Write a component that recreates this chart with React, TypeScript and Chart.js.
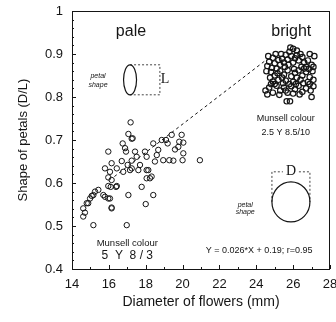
import React, { useEffect, useRef } from 'react';
import { Chart, registerables } from 'chart.js';

Chart.register(...registerables);

// Pale flowers (Munsell 5 Y 8/3)
const paleX = [17.18, 17.06, 17.29, 15.97, 16.75, 16.88, 16.93, 16.7, 17.24, 17.42, 17.51, 17.96, 18.05, 17.6, 17.69, 18.5, 18.6, 18.41, 18.87, 19.1, 19.41, 19.19, 19.82, 19.95, 20.04, 19.59, 19.77, 20.04, 19.5, 19.28, 18.95, 20.0, 18.14, 18.23, 18.05, 18.32, 17.78, 18.41, 17.06, 18.0, 16.15, 15.79, 16.15, 16.43, 16.06, 15.97, 16.15, 16.1, 16.39, 15.43, 15.25, 15.16, 14.98, 14.8, 14.61, 14.7, 14.61, 14.88, 15.07, 15.79, 15.97, 17.02, 17.15, 16.78, 15.7, 16.06, 16.15, 15.16, 16.97, 18.68, 17.24, 18.05, 20.94, 15.97, 16.43, 17.24];
const paleY = [0.741, 0.714, 0.704, 0.673, 0.692, 0.681, 0.673, 0.651, 0.652, 0.673, 0.661, 0.673, 0.661, 0.63, 0.642, 0.65, 0.665, 0.692, 0.7, 0.7, 0.712, 0.692, 0.696, 0.712, 0.694, 0.678, 0.684, 0.669, 0.652, 0.653, 0.653, 0.653, 0.63, 0.611, 0.611, 0.615, 0.591, 0.572, 0.572, 0.551, 0.543, 0.634, 0.646, 0.634, 0.626, 0.613, 0.607, 0.591, 0.591, 0.584, 0.58, 0.572, 0.564, 0.553, 0.541, 0.531, 0.522, 0.553, 0.57, 0.568, 0.564, 0.642, 0.63, 0.626, 0.572, 0.564, 0.541, 0.502, 0.502, 0.677, 0.634, 0.63, 0.653, 0.593, 0.593, 0.703];

// Bright flowers (Munsell 2.5 Y 8.5/10)
const brightX = [25.8, 26.0, 26.2, 26.4, 25.9, 26.1, 26.3, 26.5, 25.7, 26.0, 26.2, 25.85, 27.15, 26.8, 27.0, 26.7, 24.9, 24.7, 25.0, 25.2, 24.6, 24.85, 25.3, 25.1, 25.4, 24.8, 25.0, 25.3, 25.5, 25.7, 25.9, 26.1, 26.3, 26.5, 26.7, 26.9, 27.05, 25.2, 25.6, 26.0, 26.4, 26.8, 24.9, 25.4, 26.2, 26.6, 27.1, 24.5, 24.7, 24.9, 25.1, 25.3, 25.5, 25.7, 25.9, 26.1, 26.3, 26.5, 26.7, 26.9, 24.6, 25.0, 25.65, 25.83, 27.0, 25.5, 25.6, 26.6, 26.9, 27.1, 24.55, 24.75, 25.15, 25.45, 25.8, 26.15, 26.55, 26.95, 27.1, 24.8, 25.25, 25.6, 26.0, 26.35, 25.55, 25.75, 26.45, 26.85, 24.65, 25.05, 26.05, 25.35];
const brightY = [0.905, 0.912, 0.908, 0.9, 0.895, 0.89, 0.885, 0.893, 0.887, 0.88, 0.897, 0.915, 0.895, 0.885, 0.875, 0.87, 0.891, 0.882, 0.878, 0.886, 0.872, 0.868, 0.875, 0.866, 0.889, 0.858, 0.85, 0.86, 0.852, 0.862, 0.848, 0.856, 0.862, 0.85, 0.858, 0.846, 0.86, 0.84, 0.838, 0.835, 0.84, 0.835, 0.836, 0.845, 0.845, 0.866, 0.84, 0.815, 0.822, 0.81, 0.826, 0.815, 0.822, 0.81, 0.825, 0.818, 0.826, 0.812, 0.82, 0.83, 0.806, 0.83, 0.79, 0.79, 0.8, 0.88, 0.898, 0.88, 0.9, 0.87, 0.86, 0.845, 0.855, 0.832, 0.83, 0.83, 0.832, 0.815, 0.825, 0.83, 0.805, 0.815, 0.808, 0.806, 0.87, 0.875, 0.87, 0.865, 0.895, 0.9, 0.865, 0.9];

// Regression line as drawn
const fitX = [16.3, 24.5];
const fitY = [0.615, 0.885];

const xTicks = [14, 16, 18, 20, 22, 24, 26, 28];
const yTicks = [0.4, 0.5, 0.6, 0.7, 0.8, 0.9, 1];

const INK = '#151515';
const SANS = '"Liberation Sans", Arial, sans-serif';
const SERIF = '"Liberation Serif", "Times New Roman", serif';

export default function App() {
  const ref = useRef<HTMLCanvasElement>(null);

  useEffect(() => {
    const pts = (xs: number[], ys: number[]) => xs.map((x, i) => ({ x, y: ys[i] }));

    const frame = {
      id: 'frame',
      afterDatasetsDraw(chart: any) {
        const { ctx, chartArea: a, scales } = chart;
        const xs = scales.x, ys = scales.y;
        ctx.save();
        ctx.strokeStyle = INK;
        ctx.lineWidth = 1;
        ctx.strokeRect(a.left + 0.5, a.top + 0.5, a.right - a.left - 1, a.bottom - a.top);
        ctx.beginPath();
        for (let v = 14; v <= 28; v += 1) {
          const px = Math.round(xs.getPixelForValue(v)) + 0.5;
          const len = v % 2 === 0 ? 4 : 2;
          ctx.moveTo(px, a.bottom);
          ctx.lineTo(px, a.bottom - len);
        }
        for (let i = 0; i <= 30; i++) {
          const v = 0.4 + i * 0.02;
          const py = Math.round(ys.getPixelForValue(v)) + 0.5;
          const len = i % 5 === 0 ? 4 : 2;
          ctx.moveTo(a.left, py);
          ctx.lineTo(a.left + len, py);
        }
        ctx.stroke();
        ctx.restore();
      },
    };

    const annot = {
      id: 'annot',
      afterDraw(chart: any) {
        const { ctx, scales } = chart;
        const X = (v: number) => scales.x.getPixelForValue(v);
        const Y = (v: number) => scales.y.getPixelForValue(v);
        ctx.save();
        ctx.fillStyle = INK;
        ctx.strokeStyle = INK;
        ctx.textAlign = 'center';
        ctx.textBaseline = 'middle';

        ctx.font = `16px ${SANS}`;
        ctx.fillText('pale', X(17.2), Y(0.951));
        ctx.fillText('bright', X(25.9), Y(0.951));

        // top petal sketch
        ctx.font = `italic 7px ${SANS}`;
        ctx.fillText('petal', X(15.41), Y(0.849));
        ctx.fillText('shape', X(15.41), Y(0.828));
        const ex = X(17.15), ey = Y(0.84);
        ctx.lineWidth = 1.2;
        ctx.beginPath();
        ctx.ellipse(ex, ey, 6.5, 15, 0, 0, Math.PI * 2);
        ctx.stroke();
        ctx.lineWidth = 0.8;
        ctx.setLineDash([2, 2]);
        const bx = X(18.77);
        ctx.beginPath();
        ctx.moveTo(ex, ey - 15); ctx.lineTo(bx, ey - 15); ctx.lineTo(bx, ey + 15); ctx.lineTo(ex, ey + 15);
        ctx.stroke();
        ctx.setLineDash([]);
        ctx.font = `14px ${SERIF}`;
        ctx.fillText('L', bx + 5, ey);

        // bottom petal sketch
        ctx.font = `italic 7px ${SANS}`;
        ctx.fillText('petal', X(23.4), Y(0.549));
        ctx.fillText('shape', X(23.4), Y(0.532));
        const cx = X(25.88), cy = Y(0.556);
        ctx.lineWidth = 1.2;
        ctx.beginPath();
        ctx.ellipse(cx, cy, 19, 20, 0, 0, Math.PI * 2);
        ctx.stroke();
        ctx.lineWidth = 0.8;
        ctx.setLineDash([2, 2]);
        const topY = Y(0.626);
        ctx.beginPath();
        ctx.moveTo(cx - 19, cy); ctx.lineTo(cx - 19, topY); ctx.lineTo(cx - 8, topY);
        ctx.moveTo(cx + 8, topY); ctx.lineTo(cx + 19, topY); ctx.lineTo(cx + 19, cy);
        ctx.stroke();
        ctx.setLineDash([]);
        ctx.font = `14px ${SERIF}`;
        ctx.fillText('D', cx, topY);

        // Munsell labels
        ctx.font = `9px ${SANS}`;
        ctx.fillText('Munsell colour', X(25.6), Y(0.75));
        ctx.fillText('2.5 Y 8.5/10', X(25.6), Y(0.718));
        ctx.font = `9.5px ${SANS}`;
        ctx.fillText('Munsell colour', X(17.0), Y(0.46));
        ctx.font = `12px ${SANS}`;
        ctx.fillText('5  Y  8 / 3', X(17.0), Y(0.432));

        ctx.font = `9px ${SANS}`;
        ctx.fillText('Y = 0.026*X + 0.19; r=0.95', X(24.15), Y(0.444));
        ctx.restore();
      },
    };

    const markerStyle = {
      pointStyle: 'circle',
      pointRadius: 2.7,
      borderColor: INK,
      backgroundColor: 'rgba(255,255,255,0)',
      borderWidth: 1,
    };

    const chart = new Chart(ref.current as HTMLCanvasElement, {
      type: 'scatter',
      data: {
        datasets: [
          { data: pts(paleX, paleY), ...markerStyle } as any,
          { data: pts(brightX, brightY), ...markerStyle, borderWidth: 1.2 } as any,
          {
            type: 'line',
            data: pts(fitX, fitY),
            borderColor: INK,
            borderWidth: 1,
            borderDash: [3, 3],
            pointRadius: 0,
            fill: false,
          } as any,
        ],
      },
      options: {
        responsive: false,
        animation: false,
        layout: { padding: { top: 11, right: 6, left: 0, bottom: 0 } },
        plugins: { legend: { display: false }, tooltip: { enabled: false } },
        scales: {
          x: {
            type: 'linear',
            min: 14,
            max: 28,
            afterBuildTicks: (s: any) => { s.ticks = xTicks.map((v) => ({ value: v })); },
            afterFit: (s: any) => { s.height = 53; s.paddingLeft = 0; s.paddingRight = 0; },
            grid: { display: false, drawTicks: false },
            border: { display: false },
            ticks: { color: INK, padding: 8, maxRotation: 0, autoSkip: false, font: { family: SANS, size: 13 } },
            title: { display: true, text: 'Diameter of flowers (mm)', color: INK, font: { family: SANS, size: 14 }, padding: { top: 0, bottom: 11 } },
          },
          y: {
            type: 'linear',
            min: 0.4,
            max: 1,
            afterBuildTicks: (s: any) => { s.ticks = yTicks.map((v) => ({ value: v })); },
            afterFit: (s: any) => { s.width = 72; s.paddingTop = 0; s.paddingBottom = 0; },
            grid: { display: false, drawTicks: false },
            border: { display: false },
            ticks: {
              color: INK,
              padding: 9,
              autoSkip: false,
              font: { family: SANS, size: 13 },
              callback: (v: any) => String(Number(Number(v).toFixed(1))),
            },
            title: { display: true, text: 'Shape of petals (D/L)', color: INK, font: { family: SANS, size: 13 }, padding: { top: 16, bottom: 0 } },
          },
        },
      } as any,
      plugins: [frame, annot],
    });
    return () => chart.destroy();
  }, []);

  return (
    <div style={{ position: 'fixed', left: 0, top: 0, width: 336, height: 322, background: '#fff' }}>
      <canvas ref={ref} width={336} height={322} style={{ width: 336, height: 322, display: 'block' }} />
    </div>
  );
}
